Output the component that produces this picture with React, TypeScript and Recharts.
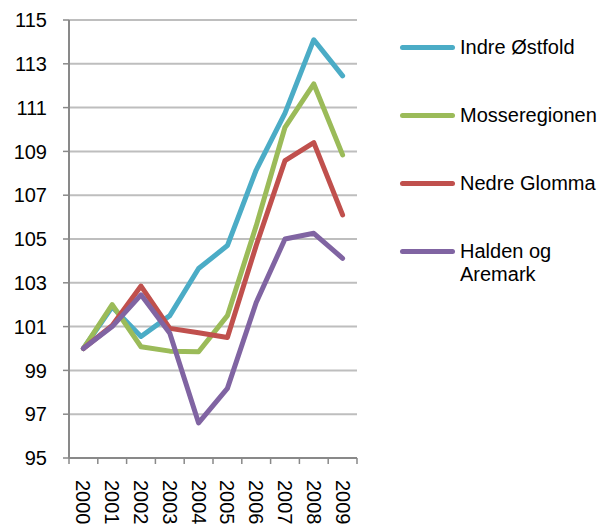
import React from 'react';
import { LineChart, Line, XAxis, YAxis, CartesianGrid, Legend } from 'recharts';

const years = ['2000', '2001', '2002', '2003', '2004', '2005', '2006', '2007', '2008', '2009'];
const indreOstfold = [100, 101.9, 100.55, 101.5, 103.65, 104.7, 108.15, 110.75, 114.1, 112.45];
const mosseregionen = [100, 102.0, 100.08, 99.88, 99.85, 101.5, 105.6, 110.1, 112.08, 108.84];
const nedreGlomma = [100, 101.05, 102.85, 100.92, 100.72, 100.5, 104.7, 108.58, 109.4, 106.1];
const haldenAremark = [100, 101.0, 102.45, 100.7, 96.6, 98.18, 102.1, 105.0, 105.26, 104.12];
const yTicks = [95, 97, 99, 101, 103, 105, 107, 109, 111, 113, 115];

const seriesDefs = [
  { key: 'indre', name: 'Indre Østfold', color: '#4BACC6', values: indreOstfold },
  { key: 'mosse', name: 'Mosseregionen', color: '#9BBB59', values: mosseregionen },
  { key: 'nedre', name: 'Nedre Glomma', color: '#C0504D', values: nedreGlomma },
  { key: 'halden', name: 'Halden og Aremark', color: '#8064A2', values: haldenAremark },
];

const data = years.map((year, i) => {
  const row: Record<string, string | number> = { year };
  seriesDefs.forEach((s) => {
    row[s.key] = s.values[i];
  });
  return row;
});

const FONT = '"Liberation Sans", Arial, sans-serif';
const W = 606;
const H = 527;
const PLOT_LEFT = 69;
const PLOT_RIGHT = 357;
const HALF_BAND = (PLOT_RIGHT - PLOT_LEFT) / years.length / 2;

const XTick = (props: any) => {
  const { x, y, payload, index } = props;
  const isLast = index === years.length - 1;
  return (
    <g>
      <line x1={x - HALF_BAND} x2={x - HALF_BAND} y1={y} y2={y + 6} stroke="#898989" strokeWidth={1.5} />
      {isLast && (
        <line x1={x + HALF_BAND} x2={x + HALF_BAND} y1={y} y2={y + 6} stroke="#898989" strokeWidth={1.5} />
      )}
      <text
        x={x}
        y={y + 22}
        dy="0.35em"
        textAnchor="start"
        transform={`rotate(90, ${x}, ${y + 22})`}
        fontSize={20}
        fontFamily={FONT}
        fill="#000"
      >
        {payload.value}
      </text>
    </g>
  );
};

const LegendContent = () => (
  <div style={{ fontFamily: FONT, fontSize: 20, color: '#000' }}>
    {seriesDefs.map((s) => (
      <div key={s.key} style={{ display: 'flex', alignItems: 'flex-start', height: 68 }}>
        <div
          style={{
            width: 55,
            height: 5,
            borderRadius: 3,
            background: s.color,
            marginTop: 9,
            marginRight: 5,
            flex: 'none',
          }}
        />
        <div style={{ lineHeight: '23px', width: 140 }}>{s.name}</div>
      </div>
    ))}
  </div>
);

export default function App() {
  return (
    <div style={{ position: 'absolute', left: 0, top: 0, width: W, height: H, background: '#fff' }}>
      <LineChart
        width={W}
        height={H}
        data={data}
        margin={{ top: 20, right: W - PLOT_RIGHT, bottom: 0, left: 0 }}
        style={{ fontFamily: FONT }}
      >
        <CartesianGrid vertical={false} stroke="#BEBEBE" strokeWidth={2} />
        <XAxis
          dataKey="year"
          height={H - 458}
          padding={{ left: HALF_BAND, right: HALF_BAND }}
          axisLine={{ stroke: '#898989', strokeWidth: 2 }}
          tickLine={false}
          tickSize={0}
          tickMargin={0}
          interval={0}
          tick={<XTick />}
        />
        <YAxis
          width={PLOT_LEFT}
          domain={[95, 115]}
          ticks={yTicks}
          interval={0}
          axisLine={{ stroke: '#898989', strokeWidth: 2 }}
          tickLine={{ stroke: '#898989', strokeWidth: 1.5 }}
          tickSize={6}
          tickMargin={16}
          tick={{ fontSize: 20, fill: '#000', fontFamily: FONT }}
        />
        <Legend
          layout="horizontal"
          verticalAlign="middle"
          align="center"
          wrapperStyle={{ left: 400, top: 36, width: 206 }}
          content={<LegendContent />}
        />
        {seriesDefs.map((s) => (
          <Line
            key={s.key}
            type="linear"
            dataKey={s.key}
            name={s.name}
            stroke={s.color}
            strokeWidth={5}
            strokeLinecap="round"
            strokeLinejoin="round"
            dot={false}
            activeDot={false}
            isAnimationActive={false}
          />
        ))}
      </LineChart>
    </div>
  );
}
